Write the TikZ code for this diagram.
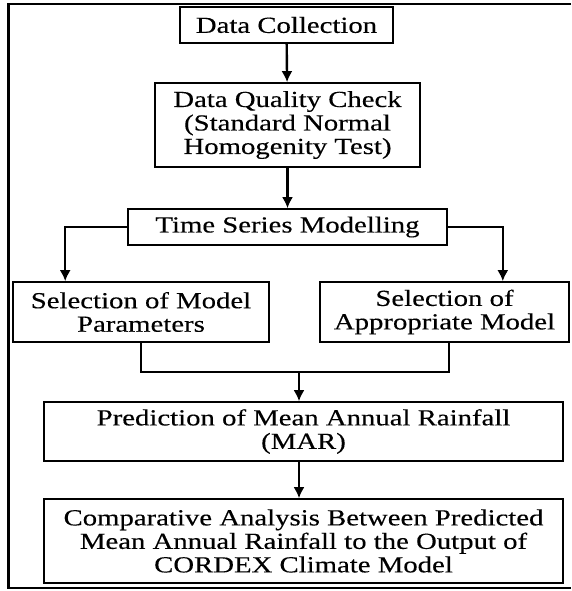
\documentclass[tikz,border=0pt]{standalone}
\usepackage{fontspec}
\setmainfont{Liberation Serif}[FakeStretch=1.25,FakeBold=0.3]
\usetikzlibrary{arrows.meta}
\begin{document}
\begin{tikzpicture}[x=1pt,y=-1pt]
\tikzstyle{box}=[draw,line width=1.6pt,align=center,inner sep=0pt,font=\fontsize{23}{23.5}\selectfont]
\tikzstyle{arr}=[line width=2.4pt,-{Latex[length=11pt,width=11pt]}]
\useasboundingbox (0,0) rectangle (571,591);
\draw[line width=2.5pt] (571,4) -- (8.5,4) -- (8.5,588) -- (571,588);
\node[box,minimum width=213pt,minimum height=36pt] at (286.5,25) (dc) {Data Collection};
\node[box,minimum width=265pt,minimum height=84pt] at (287.5,125) (dqc) {Data Quality Check\\(Standard Normal\\Homogenity Test)};
\node[box,minimum width=319pt,minimum height=36pt] at (287.5,227) (tsm) {Time Series Modelling};
\node[box,minimum width=256pt,minimum height=60pt] at (141,312) (smp) {Selection of Model\\Parameters};
\node[box,minimum width=249pt,minimum height=60pt] at (444.5,312) (sam) {Selection of\\Appropriate Model};
\node[box,minimum width=519pt,minimum height=59pt] at (303.5,431.5) (pmar) {Prediction of Mean Annual Rainfall\\(MAR)};
\node[box,minimum width=519pt,minimum height=84pt] at (303.5,541) (ca) {Comparative Analysis Between Predicted\\Mean Annual Rainfall to the Output of\\CORDEX Climate Model};
\coordinate (join) at (299,372);
\draw[arr] (dc) -- (dqc);
\draw[arr] (dqc) -- (tsm);
\draw[arr] (tsm.west) -| ([xshift=53pt]smp.north west);
\draw[arr] (tsm.east) -| ([xshift=-67pt]sam.north east);
\draw[line width=2.4pt] (smp.south) |- (join) -| ([xshift=4.5pt]sam.south);
\draw[arr] (join) -- (join |- pmar.north);
\draw[arr] (pmar.south -| join) -- (ca.north -| join);
\end{tikzpicture}
\end{document}
